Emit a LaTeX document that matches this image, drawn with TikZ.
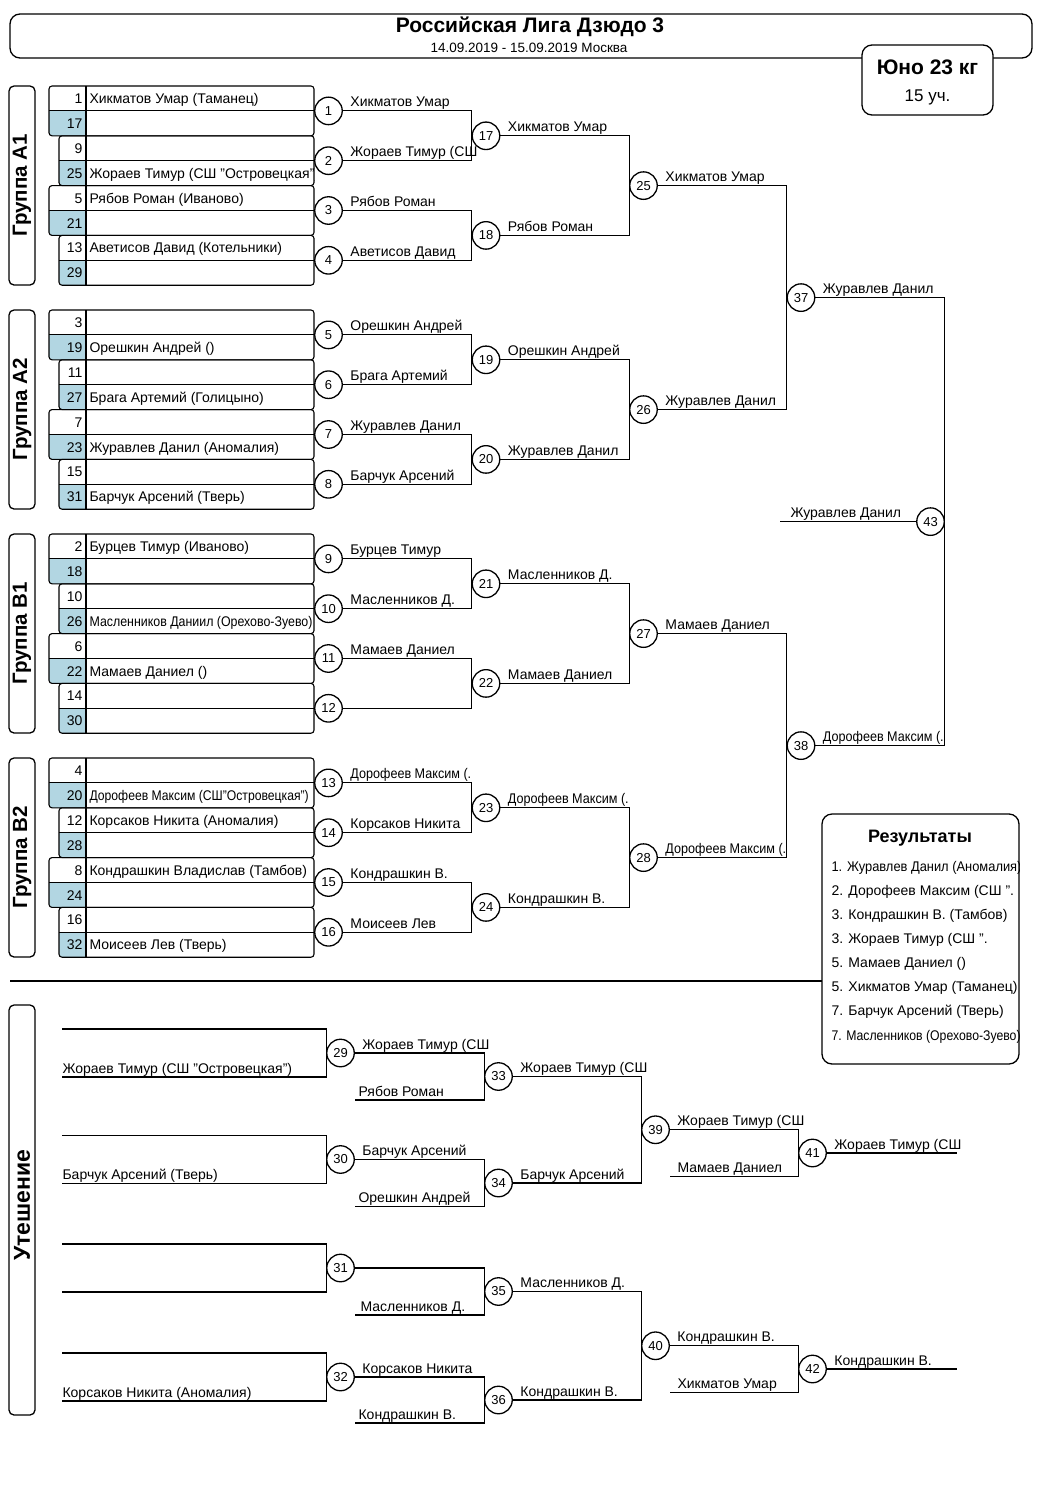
\documentclass[tikz,border=0pt]{standalone}
\usepackage{fontspec}
\setmainfont{Liberation Sans}
\usepackage{graphicx}
\usetikzlibrary{calc}
\definecolor{seedblue}{RGB}{178,214,226}
\newcommand\fs[1]{\fontsize{#1}{#1}\selectfont}
\newcommand\cnd[2]{\scalebox{#1}[1]{#2}}
\newcommand\seedpair[6]{%
  \pgfmathsetmacro\ya{#2}%
  \pgfmathsetmacro\yb{#2+24.9}%
  \pgfmathsetmacro\yc{#2+49.8}%
  \begin{scope}
    \clip[rounded corners=3pt] (#1,\ya) rectangle (314,\yc);
    \fill[seedblue] (#1,\yb) rectangle (86,\yc);
  \end{scope}
  \node[num] (n#3) at (83,\ya+17.5) {#3};
  \node[num] (n#5) at (83,\yb+17.5) {#5};
  \begin{scope}
    \clip (86,\ya) rectangle (314,\yc);
    \if\relax\detokenize{#4}\relax\else\node[nm] (s#3) at (89,\ya+17.5) {#4};\fi
    \if\relax\detokenize{#6}\relax\else\node[nm] (s#5) at (89,\yb+17.5) {#6};\fi
  \end{scope}
  \draw[rounded corners=3pt] (#1,\ya) rectangle (314,\yc);
  \draw (#1,\yb) -- (314,\yb);
  \draw (86,\ya) -- (86,\yc);
}
\newcommand\win[2]{\node[lbl] (w#1) at ($(m#1.east)+(7,-4)$) {#2};}
\begin{document}
\begin{tikzpicture}[x=1pt,y=-1pt,
  line width=1.1pt,
  mc/.style={circle,draw,line width=1.3pt,fill=white,minimum size=27.5pt,inner sep=0pt,font=\fs{13}},
  lbl/.style={anchor=base west,inner sep=0pt,font=\fs{14}},
  num/.style={anchor=base east,inner sep=0pt,font=\fs{14}},
  nm/.style={anchor=base west,inner sep=0pt,font=\fs{14}},
  grp/.style={draw,rounded corners=5pt,line width=1.3pt},
  grplbl/.style={rotate=90,font=\bfseries\fs{20.5},inner sep=0pt},
  boxr/.style={draw,rounded corners=10pt,line width=1.3pt},
]
\useasboundingbox (0,0) rectangle (1060,1499);
\fill[white] (0,0) rectangle (1060,1499);

% header
\draw[boxr] (10,14) rectangle (1032,58);
\node[font=\bfseries\fs{21},inner sep=0pt] (title) at (530,27) {Российская Лига Дзюдо 3};
\node[font=\fs{13.5},inner sep=0pt] (date) at (529,47.5) {14.09.2019 - 15.09.2019 Москва};
\draw[boxr,fill=white] (862,45) rectangle (993,115);
\node[font=\bfseries\fs{21},inner sep=0pt] (yuno) at (927.5,67) {Юно 23 кг};
\node[font=\fs{17},inner sep=0pt] (uch) at (927.5,97) {15 уч.};

% group labels
\draw[grp] (9,86) rectangle (35,285);
\node[grplbl] (gA1) at (22,185.5) {Группа А1};
\draw[grp] (9,310) rectangle (35,509);
\node[grplbl] (gA2) at (22,409.5) {Группа А2};
\draw[grp] (9,534) rectangle (35,733);
\node[grplbl] (gB1) at (22,633.5) {Группа В1};
\draw[grp] (9,758) rectangle (35,957);
\node[grplbl] (gB2) at (22,857.5) {Группа В2};
\draw[grp] (9,1005) rectangle (35,1415);
\node[grplbl,font=\bfseries\fs{23}] (gU) at (22,1205) {Утешение};

% seed tables
\seedpair{49}{86}{1}{Хикматов Умар (Таманец)}{17}{}
\seedpair{59}{135.8}{9}{}{25}{Жораев Тимур (СШ "Островецкая")}
\seedpair{49}{185.6}{5}{Рябов Роман (Иваново)}{21}{}
\seedpair{59}{235.4}{13}{Аветисов Давид (Котельники)}{29}{}

\seedpair{49}{310}{3}{}{19}{Орешкин Андрей ()}
\seedpair{59}{359.8}{11}{}{27}{Брага Артемий (Голицыно)}
\seedpair{49}{409.6}{7}{}{23}{Журавлев Данил (Аномалия)}
\seedpair{59}{459.4}{15}{}{31}{Барчук Арсений (Тверь)}

\seedpair{49}{534}{2}{Бурцев Тимур (Иваново)}{18}{}
\seedpair{59}{583.8}{10}{}{26}{\cnd{0.885}{Масленников Даниил (Орехово-Зуево)}}
\seedpair{49}{633.6}{6}{}{22}{Мамаев Даниел ()}
\seedpair{59}{683.4}{14}{}{30}{}

\seedpair{49}{758}{4}{}{20}{\cnd{0.87}{Дорофеев Максим (СШ"Островецкая")}}
\seedpair{59}{807.8}{12}{Корсаков Никита (Аномалия)}{28}{}
\seedpair{49}{857.6}{8}{Кондрашкин Владислав (Тамбов)}{24}{}
\seedpair{59}{907.4}{16}{}{32}{Моисеев Лев (Тверь)}

% main bracket circles
\foreach \n/\x/\y in {1/328.5/110.9, 2/328.5/160.7, 3/328.5/210.5, 4/328.5/260.3,
  5/328.5/334.9, 6/328.5/384.7, 7/328.5/434.5, 8/328.5/484.3,
  9/328.5/558.9, 10/328.5/608.7, 11/328.5/658.5, 12/328.5/708.3,
  13/328.5/782.9, 14/328.5/832.7, 15/328.5/882.5, 16/328.5/932.3,
  17/486/135.8, 18/486/235.4, 19/486/359.8, 20/486/459.4,
  21/486/583.8, 22/486/683.4, 23/486/807.8, 24/486/907.4,
  25/643.5/185.6, 26/643.5/409.6, 27/643.5/633.6, 28/643.5/857.6,
  37/801/297.6, 38/801/745.6, 43/930.5/521.6}
  \node[mc] (m\n) at (\x,\y) {\n};

\foreach \a/\b/\c in {1/17/2, 3/18/4, 5/19/6, 7/20/8, 9/21/10, 11/22/12, 13/23/14, 15/24/16,
  17/25/18, 19/26/20, 21/27/22, 23/28/24, 25/37/26, 27/38/28}
  \draw (m\a.east) -| (m\b.west) |- (m\c.east);
\draw (m37.east) -| (m43.east) |- (m38.east);
\coordinate (f43) at (780,521.6);
\draw (f43) -- (m43.west);
\node[lbl] (t43) at ($(f43)+(10,-4)$) {Журавлев Данил};

% winner labels
\win{1}{Хикматов Умар}
\win{2}{Жораев Тимур (СШ}
\win{3}{Рябов Роман}
\win{4}{Аветисов Давид}
\win{5}{Орешкин Андрей}
\win{6}{Брага Артемий}
\win{7}{Журавлев Данил}
\win{8}{Барчук Арсений}
\win{9}{Бурцев Тимур}
\win{10}{Масленников Д.}
\win{11}{Мамаев Даниел}
\win{13}{\cnd{0.9}{Дорофеев Максим (.}}
\win{14}{Корсаков Никита}
\win{15}{Кондрашкин В.}
\win{16}{Моисеев Лев}
\win{17}{Хикматов Умар}
\win{18}{Рябов Роман}
\win{19}{Орешкин Андрей}
\win{20}{Журавлев Данил}
\win{21}{Масленников Д.}
\win{22}{Мамаев Даниел}
\win{23}{\cnd{0.9}{Дорофеев Максим (.}}
\win{24}{Кондрашкин В.}
\win{25}{Хикматов Умар}
\win{26}{Журавлев Данил}
\win{27}{Мамаев Даниел}
\win{28}{\cnd{0.9}{Дорофеев Максим (.}}
\win{37}{Журавлев Данил}
\win{38}{\cnd{0.9}{Дорофеев Максим (.}}

% results box
\draw[boxr] (822,814) rectangle (1019,1064);
\node[font=\bfseries\fs{18},inner sep=0pt] (rt) at (920,838) {Результаты};
\begin{scope}
\clip (822,814) rectangle (1019,1064);
\node[nm] (r1) at (831,871) {\cnd{0.92}{1. Журавлев Данил (Аномалия)}};
\node[nm] (r2) at (831,895.5) {2. Дорофеев Максим (СШ ".};
\node[nm] (r3) at (831,919) {3. Кондрашкин В. (Тамбов)};
\node[nm] (r4) at (831,943.5) {3. Жораев Тимур (СШ ".};
\node[nm] (r5) at (831,967) {5. Мамаев Даниел ()};
\node[nm] (r6) at (831,991.5) {5. Хикматов Умар (Таманец)};
\node[nm] (r7) at (831,1015) {7. Барчук Арсений (Тверь)};
\node[nm] (r8) at (831,1040) {\cnd{0.875}{7. Масленников (Орехово-Зуево)}};
\end{scope}

% separator
\draw (10,981) -- (822,981);

% consolation circles
\foreach \n/\x/\y in {29/340.5/1053, 30/340.5/1159.5, 31/340.5/1268, 32/340.5/1377,
  33/498.5/1076.5, 34/498.5/1183, 35/498.5/1291.5, 36/498.5/1400,
  39/655.5/1129.75, 40/655.5/1345.75, 41/812.5/1153, 42/812.5/1369}
  \node[mc] (m\n) at (\x,\y) {\n};

\coordinate (c29t) at (62,1029);   \coordinate (c29b) at (62,1077);
\coordinate (c30t) at (62,1135.5); \coordinate (c30b) at (62,1183.5);
\coordinate (c31t) at (62,1244);   \coordinate (c31b) at (62,1292);
\coordinate (c32t) at (62,1353);   \coordinate (c32b) at (62,1401);
\coordinate (c33b) at (355,1100);
\coordinate (c34b) at (355,1206.5);
\coordinate (c35b) at (355,1315);
\coordinate (c36b) at (355,1423);
\coordinate (c41b) at (670,1176.5);
\coordinate (c42b) at (670,1392.5);
\coordinate (e41) at (957,1153);
\coordinate (e42) at (957,1369);

\foreach \n in {29,30,31,32} \draw (c\n t) -| (m\n.west) |- (c\n b);
\draw (m29.east) -| (m33.west) |- (c33b);
\draw (m30.east) -| (m34.west) |- (c34b);
\draw (m31.east) -| (m35.west) |- (c35b);
\draw (m32.east) -| (m36.west) |- (c36b);
\draw (m33.east) -| (m39.west) |- (m34.east);
\draw (m35.east) -| (m40.west) |- (m36.east);
\draw (m39.east) -| (m41.west) |- (c41b);
\draw (m40.east) -| (m42.west) |- (c42b);
\draw (m41.east) -- (e41);
\draw (m42.east) -- (e42);

\node[lbl] (t29b) at ($(c29b)+(0,-4)$) {Жораев Тимур (СШ "Островецкая")};
\node[lbl] (t30b) at ($(c30b)+(0,-4)$) {Барчук Арсений (Тверь)};
\node[lbl] (t32b) at ($(c32b)+(0,-4)$) {Корсаков Никита (Аномалия)};
\node[lbl] (t33b) at ($(c33b)+(3,-4)$) {Рябов Роман};
\node[lbl] (t34b) at ($(c34b)+(3,-4)$) {Орешкин Андрей};
\node[lbl] (t35b) at ($(c35b)+(5,-4)$) {Масленников Д.};
\node[lbl] (t36b) at ($(c36b)+(3,-4)$) {Кондрашкин В.};
\node[lbl] (t41b) at ($(c41b)+(7,-4)$) {Мамаев Даниел};
\node[lbl] (t42b) at ($(c42b)+(7,-4)$) {Хикматов Умар};
\win{29}{Жораев Тимур (СШ}
\win{30}{Барчук Арсений}
\win{32}{Корсаков Никита}
\win{33}{Жораев Тимур (СШ}
\win{34}{Барчук Арсений}
\win{35}{Масленников Д.}
\win{36}{Кондрашкин В.}
\win{39}{Жораев Тимур (СШ}
\win{40}{Кондрашкин В.}
\win{41}{Жораев Тимур (СШ}
\win{42}{Кондрашкин В.}
\end{tikzpicture}
\end{document}
